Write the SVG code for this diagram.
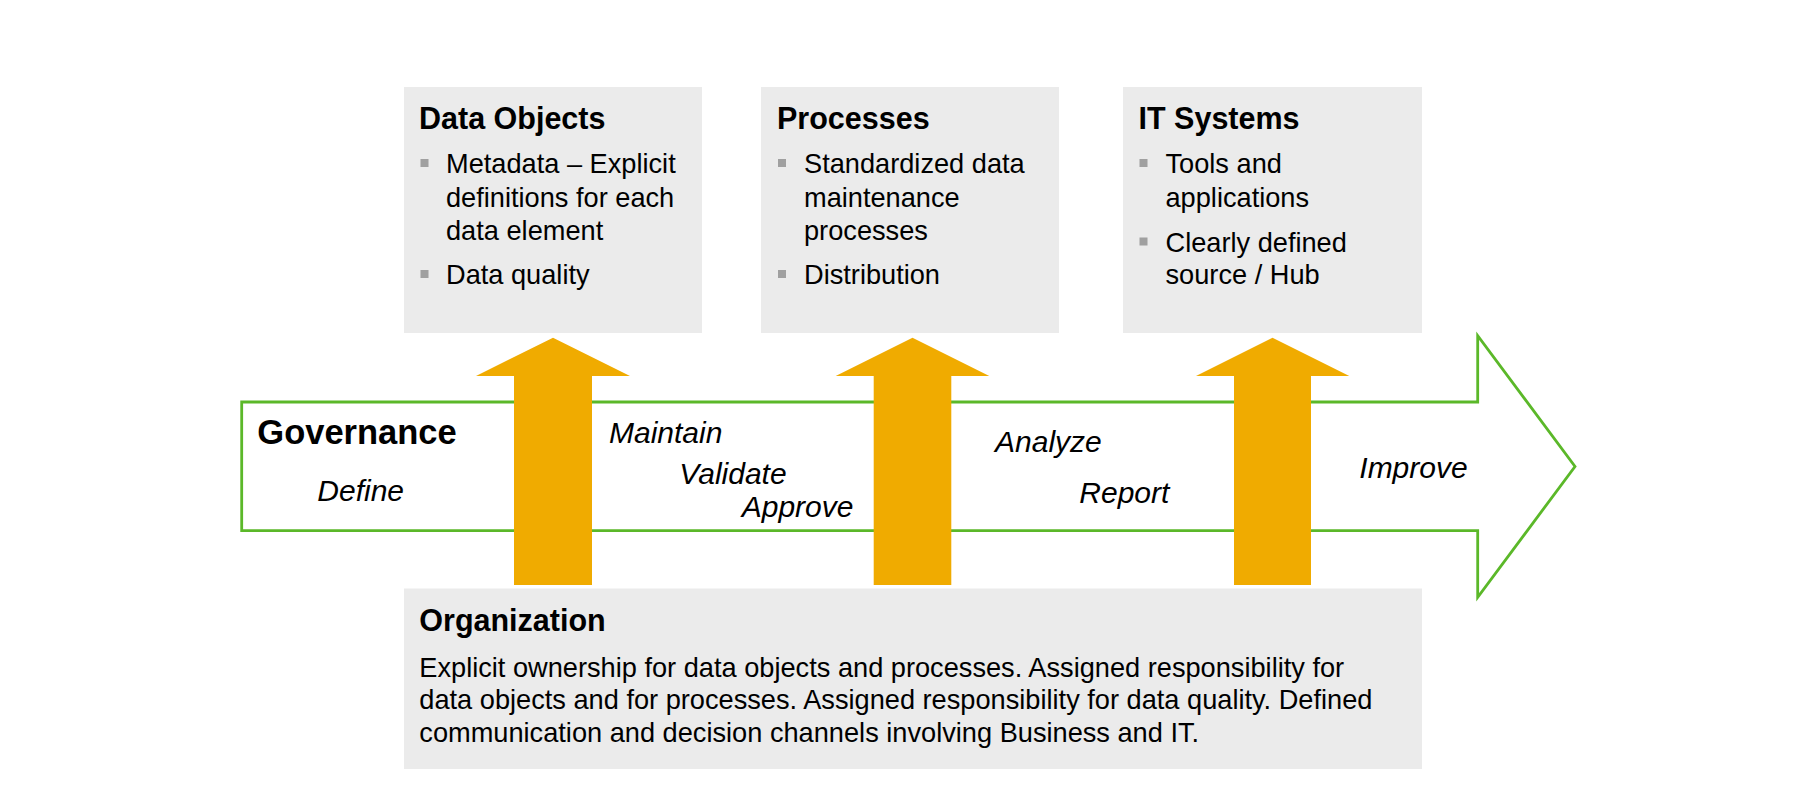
<svg xmlns="http://www.w3.org/2000/svg" width="1819" height="794" viewBox="0 0 1819 794">
<style>
.box{fill:#EBEBEB}
.title{font-family:"Liberation Sans",Arial,sans-serif;font-weight:bold;font-size:30.5px;fill:#000}
.txt{font-family:"Liberation Sans",Arial,sans-serif;font-size:27.2px;fill:#000}
.it{font-family:"Liberation Sans",Arial,sans-serif;font-style:italic;font-size:30px;fill:#000}
.gov{font-family:"Liberation Sans",Arial,sans-serif;font-weight:bold;font-size:34.5px;fill:#000}
.bul{fill:#A0A0A0}
.orange{fill:#F0AB00}
.green{fill:#FFFFFF;stroke:#5BB829;stroke-width:2.8}
</style>
<rect width="1819" height="794" fill="#FFFFFF"/>

<g id="data-objects">
<rect class="box" x="404" y="87" width="298" height="246"/>
<text class="title" x="419" y="129">Data Objects</text>
<rect class="bul" x="420.5" y="159" width="8" height="8"/>
<text class="txt" x="446" y="173">Metadata – Explicit</text>
<text class="txt" x="446" y="206.5">definitions for each</text>
<text class="txt" x="446" y="240">data element</text>
<rect class="bul" x="420.5" y="270" width="8" height="8"/>
<text class="txt" x="446" y="284">Data quality</text>
</g>

<g id="processes">
<rect class="box" x="761" y="87" width="298" height="246"/>
<text class="title" x="777" y="129">Processes</text>
<rect class="bul" x="778" y="159" width="8" height="8"/>
<text class="txt" x="804" y="173">Standardized data</text>
<text class="txt" x="804" y="206.5">maintenance</text>
<text class="txt" x="804" y="240">processes</text>
<rect class="bul" x="778" y="270" width="8" height="8"/>
<text class="txt" x="804" y="284">Distribution</text>
</g>

<g id="it-systems">
<rect class="box" x="1123" y="87" width="299" height="246"/>
<text class="title" x="1138.5" y="129">IT Systems</text>
<rect class="bul" x="1139.5" y="159" width="8" height="8"/>
<text class="txt" x="1165.5" y="173">Tools and</text>
<text class="txt" x="1165.5" y="206.5">applications</text>
<rect class="bul" x="1139.5" y="237.5" width="8" height="8"/>
<text class="txt" x="1165.5" y="251.5">Clearly defined</text>
<text class="txt" x="1165.5" y="284">source / Hub</text>
</g>

<g id="organization">
<rect class="box" x="404" y="588.5" width="1018" height="180.5"/>
<text class="title" x="419.3" y="630.7">Organization</text>
<text class="txt" x="419.3" y="676.5">Explicit ownership for data objects and processes. Assigned responsibility for</text>
<text class="txt" x="419.3" y="709">data objects and for processes. Assigned responsibility for data quality. Defined</text>
<text class="txt" x="419.3" y="741.5">communication and decision channels involving Business and IT.</text>
</g>

<g id="governance">
<polygon class="green" points="241.7,402 1477.7,402 1477.7,335.7 1575,466.5 1477.7,597.3 1477.7,530.7 241.7,530.7"/>
<text class="gov" x="257.3" y="444">Governance</text>
<text class="it" x="317.3" y="500.7">Define</text>
<text class="it" x="609" y="443.3">Maintain</text>
<text class="it" x="679.3" y="484">Validate</text>
<text class="it" x="741.7" y="517.3">Approve</text>
<text class="it" x="995" y="452.3">Analyze</text>
<text class="it" x="1079.3" y="502.7">Report</text>
<text class="it" x="1359.3" y="478.3">Improve</text>
</g>

<g id="connectors">
<polygon class="orange" points="514,585 514,376 476,376 553,337.7 630,376 592,376 592,585"/>
<polygon class="orange" points="873.7,585 873.7,376 835.7,376 912.5,337.7 989.3,376 951.3,376 951.3,585"/>
<polygon class="orange" points="1234,585 1234,376 1196,376 1272.5,337.7 1349.3,376 1311,376 1311,585"/>
</g>
</svg>
